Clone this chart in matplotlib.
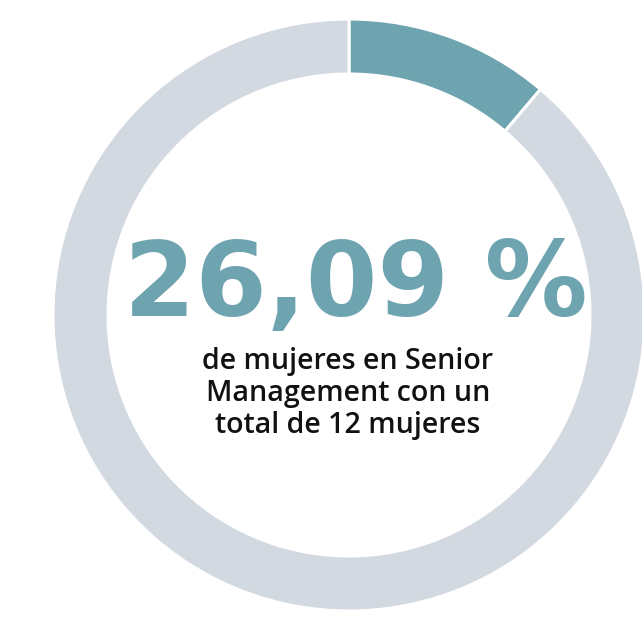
import matplotlib
matplotlib.use("Agg")
import matplotlib.pyplot as plt

# donut segments, clockwise from 12 o'clock
segment_labels = ["Mujeres", "Resto"]
segment_values = [11.2, 88.8]
segment_colors = ["#6ea3b0", "#d3d9e1"]

big_label = "26,09 %"
sub_lines = ["de mujeres en Senior", "Management con un", "total de 12 mujeres"]

W, H = 642, 619
fig = plt.figure(figsize=(W / 100, H / 100), dpi=100)
ax = fig.add_axes([0, 0, 1, 1])

cx, cy = 349, H - 315
ax.pie(segment_values, colors=segment_colors, radius=296, center=(cx, cy),
       startangle=90, counterclock=False,
       wedgeprops=dict(width=55, edgecolor="white", linewidth=2.2))

ax.set_xlim(0, W)
ax.set_ylim(0, H)
ax.set_aspect("equal")
ax.axis("off")

ax.text(356, H - 316, big_label, ha="center", va="baseline",
        fontsize=74, fontweight="bold", family="DejaVu Sans", color="#6ea3b0")

for i, line in enumerate(sub_lines):
    ax.text(348, H - (369 + 32 * i), line, ha="center", va="baseline",
            fontsize=20.6, fontweight="semibold", family="Open Sans",
            color="#111111")

fig.savefig("out.png", dpi=100)
